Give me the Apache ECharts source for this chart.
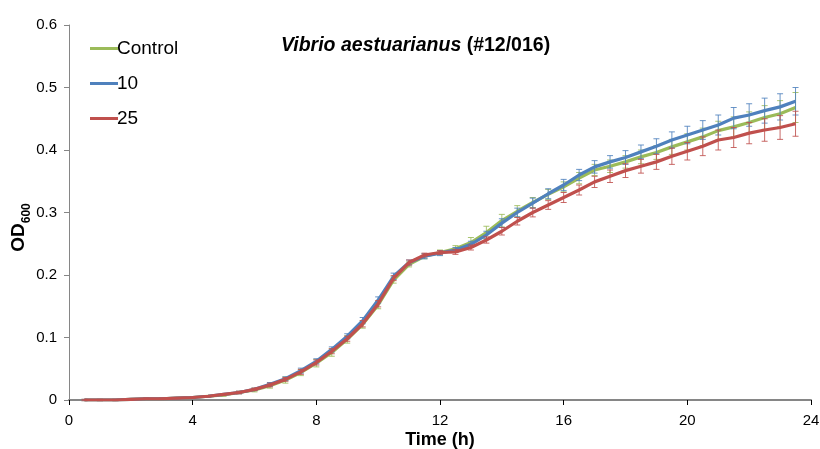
<!DOCTYPE html>
<html>
<head>
<meta charset="utf-8">
<script src="https://cdn.jsdelivr.net/npm/echarts@6/dist/echarts.min.js"></script>
<style>
html,body{margin:0;padding:0;background:#fff;}
#chart{width:820px;height:449px;}
</style>
</head>
<body>
<div id="chart"></div>
<script>
var seriesNames = ['Control', '10', '25'];
var times = [0.5,1.0,1.5,2.0,2.5,3.0,3.5,4.0,4.5,5.0,5.5,6.0,6.5,7.0,7.5,8.0,8.5,9.0,9.5,10.0,
  10.5,11.0,11.5,12.0,12.5,13.0,13.5,14.0,14.5,15.0,15.5,16.0,16.5,17.0,17.5,18.0,18.5,19.0,19.5,20.0,
  20.5,21.0,21.5,22.0,22.5,23.0,23.5];
var controlOD = [0.000,0.000,0.000,0.001,0.002,0.002,0.003,0.004,0.006,0.008,0.012,0.016,0.023,0.032,0.044,0.059,0.076,0.097,0.121,0.152,
  0.192,0.217,0.230,0.236,0.242,0.252,0.268,0.287,0.302,0.316,0.329,0.341,0.355,0.368,0.374,0.381,0.389,0.396,0.405,0.413,
  0.421,0.431,0.437,0.444,0.452,0.458,0.468];
var od10 = [0.000,0.000,0.000,0.001,0.002,0.002,0.003,0.004,0.006,0.009,0.012,0.017,0.025,0.034,0.047,0.062,0.081,0.102,0.127,0.160,
  0.198,0.220,0.230,0.235,0.240,0.249,0.264,0.283,0.300,0.315,0.330,0.344,0.360,0.373,0.381,0.388,0.397,0.406,0.416,0.424,
  0.432,0.440,0.451,0.456,0.463,0.469,0.478];
var od25 = [0.000,0.000,0.000,0.001,0.002,0.002,0.003,0.004,0.006,0.009,0.012,0.017,0.024,0.033,0.045,0.060,0.078,0.098,0.122,0.154,
  0.195,0.220,0.232,0.236,0.237,0.244,0.256,0.270,0.286,0.300,0.312,0.324,0.336,0.349,0.358,0.367,0.374,0.381,0.390,0.398,
  0.406,0.416,0.420,0.427,0.432,0.436,0.442];
var controlErr = [0.001,0.001,0.001,0.001,0.001,0.001,0.001,0.001,0.001,0.002,0.002,0.003,0.004,0.005,0.005,0.006,0.006,0.006,0.006,0.006,
  0.005,0.004,0.004,0.004,0.005,0.008,0.010,0.010,0.009,0.008,0.008,0.008,0.009,0.009,0.010,0.010,0.011,0.011,0.012,0.013,
  0.014,0.015,0.016,0.017,0.019,0.021,0.024];
var err10 = [0.001,0.001,0.001,0.001,0.001,0.001,0.001,0.001,0.001,0.001,0.002,0.002,0.003,0.003,0.004,0.004,0.004,0.004,0.005,0.005,
  0.005,0.004,0.004,0.004,0.004,0.005,0.006,0.007,0.007,0.008,0.008,0.009,0.009,0.010,0.010,0.011,0.011,0.012,0.013,0.014,
  0.015,0.016,0.017,0.018,0.020,0.021,0.022];
var err25 = [0.001,0.001,0.001,0.001,0.001,0.001,0.001,0.001,0.001,0.001,0.002,0.002,0.003,0.003,0.004,0.004,0.004,0.004,0.005,0.005,
  0.004,0.004,0.003,0.003,0.004,0.004,0.005,0.006,0.006,0.007,0.007,0.008,0.008,0.009,0.010,0.011,0.011,0.012,0.013,0.014,
  0.015,0.016,0.016,0.017,0.018,0.019,0.020];
var xTicks = [0, 4, 8, 12, 16, 20, 24];
var yTicks = [0, 0.1, 0.2, 0.3, 0.4, 0.5, 0.6];
var colors = ['#9BBB59', '#4F81BD', '#C0504D'];

var values = [controlOD, od10, od25];
var errs = [controlErr, err10, err25];
var regular = "'Liberation Sans', Arial, sans-serif";

function pairs(v) { return times.map(function (t, i) { return [t, v[i]]; }); }
function errData(v, e) { return times.map(function (t, i) { return [t, v[i] - e[i], v[i] + e[i]]; }); }

function errRender(color) {
  return function (params, api) {
    var x = api.value(0);
    var lo = api.coord([x, api.value(1)]);
    var hi = api.coord([x, api.value(2)]);
    var hw = 3;
    var style = { stroke: color, lineWidth: 1, opacity: 0.85 };
    return {
      type: 'group',
      children: [
        { type: 'line', shape: { x1: lo[0], y1: lo[1], x2: hi[0], y2: hi[1] }, style: style },
        { type: 'line', shape: { x1: lo[0] - hw, y1: lo[1], x2: lo[0] + hw, y2: lo[1] }, style: style },
        { type: 'line', shape: { x1: hi[0] - hw, y1: hi[1], x2: hi[0] + hw, y2: hi[1] }, style: style }
      ]
    };
  };
}

var series = [];
for (var k = 0; k < 3; k++) {
  series.push({
    type: 'custom',
    name: seriesNames[k] + ' err',
    renderItem: errRender(colors[k]),
    data: errData(values[k], errs[k]),
    encode: { x: 0, y: [1, 2] },
    z: 2 + k * 2,
    silent: true
  });
}
for (var k2 = 0; k2 < 3; k2++) {
  series.push({
    type: 'line',
    name: seriesNames[k2],
    data: pairs(values[k2]),
    showSymbol: false,
    symbol: 'none',
    lineStyle: { color: colors[k2], width: 3.2 },
    itemStyle: { color: colors[k2] },
    z: 3 + k2 * 2,
    animation: false
  });
}

var chart = echarts.init(document.getElementById('chart'), null, { renderer: 'canvas' });
chart.setOption({
  animation: false,
  backgroundColor: '#ffffff',
  textStyle: { fontFamily: regular },
  title: {
    text: '{i|Vibrio aestuarianus}{b| (#12/016)}',
    left: 276,
    top: 31,
    textStyle: {
      rich: {
        i: { fontFamily: regular, fontSize: 19.5, fontWeight: 'bold', fontStyle: 'italic', color: '#000' },
        b: { fontFamily: regular, fontSize: 19.5, fontWeight: 'bold', color: '#000' }
      }
    }
  },
  legend: {
    data: seriesNames,
    orient: 'vertical',
    left: 85,
    top: 34,
    itemWidth: 28,
    itemHeight: 3,
    itemGap: 16,
    icon: 'rect',
    textStyle: { fontFamily: regular, fontSize: 19, color: '#000', padding: [0, 0, 0, -6] }
  },
  grid: { left: 69, right: 9, top: 25, bottom: 49, containLabel: false, outerBoundsMode: 'none' },
  xAxis: {
    type: 'value',
    min: xTicks[0],
    max: xTicks[xTicks.length - 1],
    interval: 4,
    name: 'Time (h)',
    nameLocation: 'middle',
    nameMoveOverlap: false,
    nameGap: 31,
    nameTextStyle: { fontFamily: regular, fontSize: 18, fontWeight: 'bold', color: '#000' },
    axisLine: { lineStyle: { color: '#868686', width: 2 } },
    axisTick: { inside: false, length: 5, lineStyle: { color: '#000', width: 1 } },
    axisLabel: { fontFamily: regular, fontSize: 15, color: '#000', margin: 13 },
    splitLine: { show: false }
  },
  yAxis: {
    type: 'value',
    min: yTicks[0],
    max: yTicks[yTicks.length - 1],
    interval: 0.1,
    name: '{a|OD}{s|600}',
    nameLocation: 'middle',
    nameRotate: 90,
    nameMoveOverlap: false,
    nameGap: 41,
    nameTextStyle: {
      padding: [0, 30, 0, 0],
      rich: {
        a: { fontFamily: regular, fontSize: 19, fontWeight: 'bold', color: '#000', verticalAlign: 'bottom' },
        s: { fontFamily: regular, fontSize: 12, fontWeight: 'bold', color: '#000', verticalAlign: 'bottom', padding: [0, 0, -5, 0] }
      }
    },
    axisLine: { show: true, lineStyle: { color: '#868686', width: 1 } },
    axisTick: { show: true, inside: false, length: 5, lineStyle: { color: '#868686', width: 1 } },
    axisLabel: {
      fontFamily: regular, fontSize: 15, color: '#000', margin: 12,
      formatter: function (v) { return v === 0 ? '0' : v.toFixed(1); }
    },
    splitLine: { show: false }
  },
  series: series
});
</script>
</body>
</html>
